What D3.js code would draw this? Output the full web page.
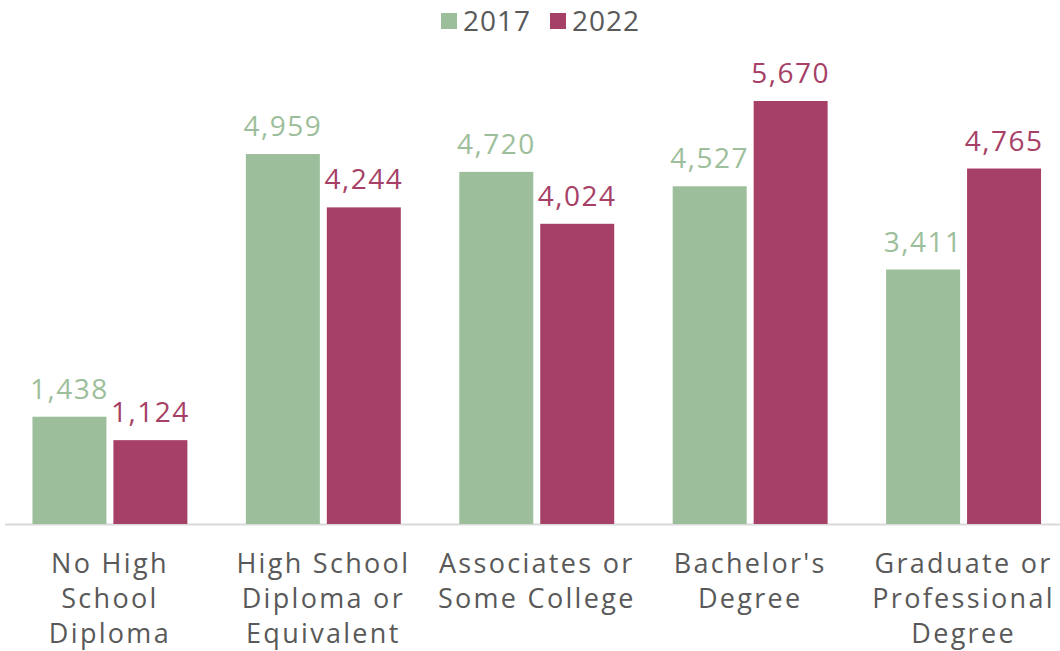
<!DOCTYPE html>
<html>
<head>
<meta charset="utf-8">
<script src="https://cdn.jsdelivr.net/npm/d3@7"></script>
<style>
  body { margin: 0; background: #fff; }
  text { font-family: "Open Sans", sans-serif; }
</style>
</head>
<body>
<script>
const categories = ["No High\nSchool\nDiploma", "High School\nDiploma or\nEquivalent", "Associates or\nSome College", "Bachelor's\nDegree", "Graduate or\nProfessional\nDegree"];
const seriesNames = ["2017", "2022"];
const values2017 = [1438, 4959, 4720, 4527, 3411];
const values2022 = [1124, 4244, 4024, 5670, 4765];
const colors = ["#9dbe9b", "#a64066"];

const width = 1060, height = 651;
const baseline = 524;

const svg = d3.select("body").append("svg")
  .attr("width", width)
  .attr("height", height);

const x = d3.scaleBand().domain(categories).range([3, 1070.5]).paddingInner(0.274).paddingOuter(0.138);
const x1 = d3.scaleBand().domain(seriesNames).range([0, x.bandwidth()]).paddingInner(0.086);
const y = d3.scaleLinear().domain([0, 5670]).range([baseline, 101]);

const rows = categories.map((c, i) => ({cat: c, vals: [values2017[i], values2022[i]]}));

// baseline
svg.append("line")
  .attr("x1", 5).attr("x2", width)
  .attr("y1", baseline + 0.5).attr("y2", baseline + 0.5)
  .attr("stroke", "#d9d9d9").attr("stroke-width", 2);

const groups = svg.selectAll("g.grp")
  .data(rows).enter().append("g")
  .attr("class", "grp")
  .attr("transform", d => `translate(${x(d.cat)},0)`);

groups.selectAll("rect")
  .data(d => d.vals.map((v, j) => ({s: seriesNames[j], v, j})))
  .enter().append("rect")
  .attr("x", d => x1(d.s))
  .attr("width", x1.bandwidth())
  .attr("y", d => y(d.v))
  .attr("height", d => baseline - y(d.v))
  .attr("fill", d => colors[d.j]);

groups.selectAll("text.val")
  .data(d => d.vals.map((v, j) => ({s: seriesNames[j], v, j})))
  .enter().append("text")
  .attr("class", "val")
  .attr("x", d => x1(d.s) + x1.bandwidth() / 2)
  .attr("y", d => y(d.v) - 18)
  .attr("text-anchor", "middle")
  .attr("font-size", 28)
  .attr("letter-spacing", 1.5)
  .attr("fill", d => colors[d.j])
  .text(d => d3.format(",")(d.v));

// category labels
const catLabels = svg.selectAll("text.cat")
  .data(categories).enter().append("text")
  .attr("class", "cat")
  .attr("text-anchor", "middle")
  .attr("font-size", 27)
  .attr("letter-spacing", 2.3)
  .attr("fill", "#595959")
  .attr("transform", d => `translate(${x(d) + x.bandwidth() / 2},573)`);
catLabels.selectAll("tspan")
  .data(d => d.split("\n"))
  .enter().append("tspan")
  .attr("x", 0)
  .attr("dy", (d, i) => i === 0 ? 0 : 35)
  .text(d => d);

// legend
const legend = svg.append("g");
const legendX = [441, 550];
seriesNames.forEach((s, i) => {
  legend.append("rect")
    .attr("x", legendX[i]).attr("y", 13)
    .attr("width", 16).attr("height", 16)
    .attr("fill", colors[i]);
  legend.append("text")
    .attr("x", legendX[i] + 22).attr("y", 31)
    .attr("font-size", 28)
    .attr("letter-spacing", 1)
    .attr("fill", "#595959")
    .text(s);
});
</script>
</body>
</html>
